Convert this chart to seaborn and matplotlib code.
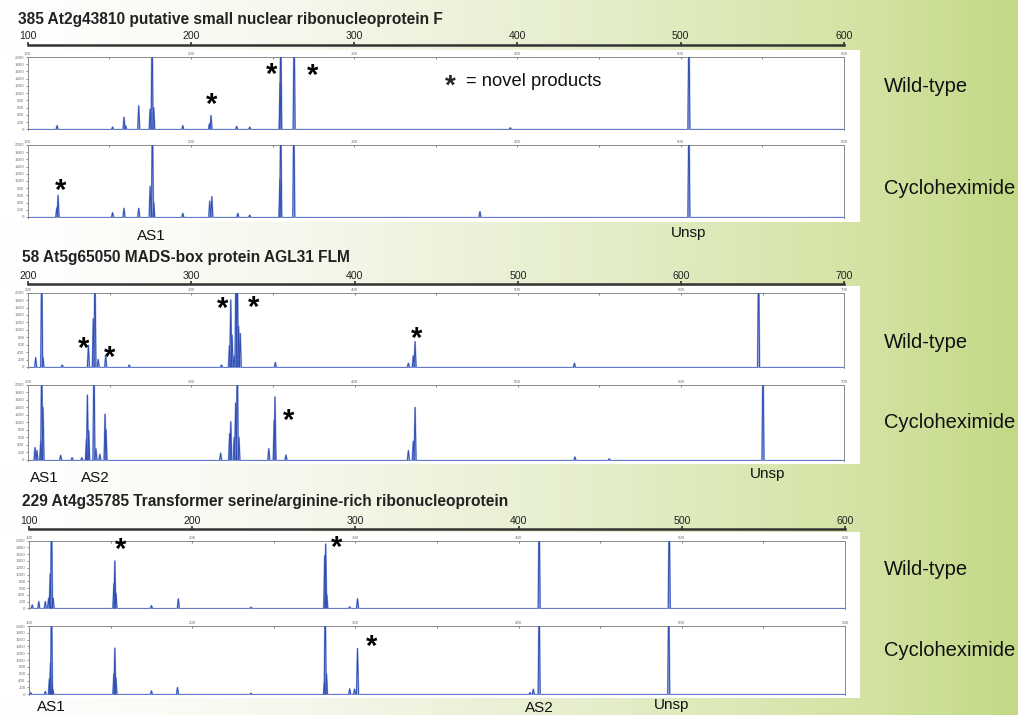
import numpy as np
import pandas as pd
import matplotlib
matplotlib.use("Agg")
import matplotlib.pyplot as plt
import matplotlib.transforms as mtransforms
from matplotlib.colors import LinearSegmentedColormap
from matplotlib.patches import Rectangle
from matplotlib.ticker import MultipleLocator
import seaborn as sns

# ---- data ----------------------------------------------------------------
titles = ["385 At2g43810 putative small nuclear ribonucleoprotein F",
          "58 At5g65050 MADS-box protein AGL31 FLM",
          "229 At4g35785 Transformer serine/arginine-rich ribonucleoprotein"]
size_ranges = [(100, 600), (200, 700), (100, 600)]
conditions = ["Wild-type", "Cycloheximide"]
rfu_ticks = list(range(0, 2001, 200))

# peaks: size (bp) and height (RFU); values above 2000 run off the scale
snrnp_wt_bp = [118, 152, 159, 160, 168, 175, 176.2, 177.2, 195, 211.3, 212.3, 228, 236, 254.6, 255, 263.2, 395.6, 505]
snrnp_wt_rfu = [100, 60, 330, 100, 650, 560, 3000, 600, 100, 150, 380, 80, 60, 1300, 3000, 3000, 40, 3000]
snrnp_chx_bp = [117.8, 118.6, 152, 159, 168, 175, 176.4, 177.2, 195, 211.5, 212.8, 228.7, 236, 254.5, 255, 263, 377, 505]
snrnp_chx_rfu = [250, 600, 120, 240, 240, 850, 3000, 400, 100, 440, 560, 100, 50, 1050, 3000, 3000, 150, 3000]

flm_wt_bp = [204.7, 208.4, 209.2, 221, 237, 240, 241, 243, 247.6, 262, 318.5, 323.4, 324.2, 325,
             326.2, 327.4, 328.2, 329, 330, 351.5, 433, 436, 437.1, 534.7, 647.5]
flm_wt_rfu = [250, 3000, 250, 50, 580, 1300, 3000, 200, 310, 50, 50, 580, 1800, 850,
              300, 3000, 3000, 1100, 900, 120, 100, 300, 680, 100, 3000]
flm_chx_bp = [204.3, 205.5, 207.8, 208.4, 209.2, 220, 227, 233, 235.8, 236.4, 237.2, 240.4, 241.6, 244,
              247.2, 247.8, 318, 323.5, 324.2, 326.3, 327.2, 328.2, 329.2, 347.5, 350.8, 351.3, 358,
              433, 436, 437.1, 535, 556, 650.2]
flm_chx_rfu = [330, 250, 500, 3000, 1400, 120, 60, 60, 550, 1730, 780, 3000, 300, 150,
               1220, 800, 180, 700, 1020, 600, 1520, 3000, 600, 300, 1050, 1680, 130,
               250, 500, 1400, 80, 30, 3000]

tsr_wt_bp = [102, 106, 110, 112, 113, 113.8, 114.8, 152, 152.6, 153.3, 175, 191.5, 236,
             281.2, 281.8, 282.5, 296.5, 301.3, 412.6, 492.3]
tsr_wt_rfu = [100, 200, 200, 300, 1020, 3000, 300, 730, 1400, 450, 80, 280, 30,
              1560, 1900, 400, 40, 280, 3000, 3000]
tsr_chx_bp = [101, 110, 112.5, 113.2, 113.8, 114.6, 152, 152.6, 153.3, 175, 191, 236,
              281, 281.5, 282.3, 296.5, 299.5, 301.3, 407, 409, 412.6, 492]
tsr_chx_rfu = [50, 80, 450, 920, 3000, 150, 600, 1350, 480, 100, 200, 30,
               350, 3000, 600, 160, 150, 1340, 50, 150, 3000, 3000]

# novel products (*) as (bp, RFU)
snrnp_wt_stars = [(212.6, 822), (249.4, 1663), (274.5, 1625)]
snrnp_chx_stars = [(120.2, 872)]
flm_wt_stars = [(233.9, 650), (250.2, 400), (319.3, 1733), (338, 1760), (437.7, 899)]
flm_chx_stars = [(359.5, 1207)]
tsr_wt_stars = [(156.3, 1903), (288.6, 1970)]
tsr_chx_stars = [(310, 1565)]

# product names under the traces
snrnp_products = ["AS1", "Unsp"]
snrnp_product_bp = [175.6, 505]
flm_products = ["AS1", "AS2", "Unsp"]
flm_product_bp = [210, 241, 653]
tsr_products = ["AS1", "AS2", "Unsp"]
tsr_product_bp = [113.8, 412.7, 494]

traces = [[(snrnp_wt_bp, snrnp_wt_rfu, snrnp_wt_stars), (snrnp_chx_bp, snrnp_chx_rfu, snrnp_chx_stars)],
          [(flm_wt_bp, flm_wt_rfu, flm_wt_stars), (flm_chx_bp, flm_chx_rfu, flm_chx_stars)],
          [(tsr_wt_bp, tsr_wt_rfu, tsr_wt_stars), (tsr_chx_bp, tsr_chx_rfu, tsr_chx_stars)]]
products = [(snrnp_products, snrnp_product_bp), (flm_products, flm_product_bp), (tsr_products, tsr_product_bp)]

# ---- layout (pixels) ------------------------------------------------------
W, H = 1018, 715
layout = [
    dict(title_y=24, title_x=18, scale_y=44.5, white=(50, 222), lr=(27.7, 844),
         traces=[(57, 130), (145, 217.7)], prod_y=[240, 237], cond_y=[92.5, 193.5]),
    dict(title_y=261.7, title_x=22, scale_y=284.3, white=(286, 464), lr=(28, 844.3),
         traces=[(292.7, 367.7), (385, 460.7)], prod_y=[481.7, 481.7, 478], cond_y=[348.5, 428]),
    dict(title_y=506, title_x=22, scale_y=529.3, white=(532, 698), lr=(29, 845),
         traces=[(540.7, 609), (626, 695)], prod_y=[711, 711.5, 709], cond_y=[575, 655.5]),
]
dark = "#2f4cb0"
light = "#9fb2e8"
peak_halfwidth = 0.6

sns.set_style("white")
plt.rcParams['font.family'] = ['Liberation Sans', 'DejaVu Sans']

fig = plt.figure(figsize=(W / 100, H / 100), dpi=100)


def box(l, t, r, b):
    return [l / W, 1 - b / H, (r - l) / W, (b - t) / H]


def px_y(y):
    return 1 - y / H


# background gradient + white panels
bg = fig.add_axes([0, 0, 1, 1], zorder=-10)
cmap = LinearSegmentedColormap.from_list(
    "bg", [(0, "#ffffff"), (0.25, "#f7f9f0"), (0.55, "#e7efd0"), (0.85, "#d4e3a3"), (1, "#c3d986")])
bg.imshow(np.linspace(0, 1, 256)[None, :], aspect="auto", cmap=cmap, extent=[0, W, H, 0])
bg.set_xlim(0, W)
bg.set_ylim(H, 0)
bg.axis("off")
for lay in layout:
    t, b = lay["white"]
    bg.add_patch(Rectangle((0, t), 860, b - t, color="white", lw=0))

star_fs = 21
star_shift = 0.2

for p, lay in enumerate(layout):
    lo, hi = size_ranges[p]
    l, r = lay["lr"]

    fig.text(lay["title_x"] / W, px_y(lay["title_y"]), titles[p], fontsize=11.2,
             fontweight="bold", color="#222222", va="baseline", ha="left")

    # size scale above the traces
    sc = fig.add_axes(box(l, lay["scale_y"], r, lay["scale_y"] + 2))
    sc.set_xlim(lo, hi)
    sc.set_yticks([])
    sc.patch.set_alpha(0)
    for s in ["left", "right", "bottom"]:
        sc.spines[s].set_visible(False)
    sc.spines["top"].set_linewidth(1.8)
    sc.spines["top"].set_color("#333333")
    sc.xaxis.set_major_locator(MultipleLocator(100))
    sc.tick_params(axis="x", top=True, bottom=False, labeltop=True, labelbottom=False,
                   direction="out", length=2.2, width=1.2, pad=0.3, labelsize=7.6,
                   color="#333333", labelcolor="#222222")

    for k, (t, b) in enumerate(lay["traces"]):
        bp, rfu, stars = traces[p][k]
        ax = fig.add_axes(box(l, t, r, b))
        rows = []
        for i, (x, h) in enumerate(zip(bp, rfu)):
            rows += [(i, x - peak_halfwidth, 0), (i, x, h), (i, x + peak_halfwidth, 0)]
        df = pd.DataFrame(rows, columns=["peak", "bp", "rfu"])
        ax.axhline(0, color=light, lw=1.0, zorder=1)
        ax.axhline(0, color=dark, lw=0.4, zorder=2)
        sns.lineplot(data=df, x="bp", y="rfu", units="peak", estimator=None, sort=False,
                     color=light, lw=1.3, ax=ax, legend=False, zorder=3)
        sns.lineplot(data=df, x="bp", y="rfu", units="peak", estimator=None, sort=False,
                     color=dark, lw=0.65, ax=ax, legend=False, zorder=4)
        ax.set_xlim(lo, hi)
        ax.set_ylim(-20, 2000)
        ax.set_xlabel("")
        ax.set_ylabel("")
        ax.set_facecolor("white")
        ax.spines["bottom"].set_visible(False)
        for s in ["top", "left", "right"]:
            ax.spines[s].set_color("#8a8a8a")
            ax.spines[s].set_linewidth(0.7)
        ax.xaxis.set_major_locator(MultipleLocator(100))
        ax.xaxis.set_minor_locator(MultipleLocator(50))
        ax.tick_params(axis="x", which="both", top=True, bottom=False, labeltop=True,
                       labelbottom=False, direction="in", length=1.5, width=0.6,
                       pad=0.5, labelsize=3.2, color="#666666", labelcolor="#777777")
        ax.set_yticks(rfu_ticks)
        ax.tick_params(axis="y", left=True, direction="out", length=1.8, width=0.5,
                       pad=0.6, labelsize=3.2, color="#666666", labelcolor="#777777")

        off = mtransforms.ScaledTranslation(0, -star_shift * star_fs / 72, fig.dpi_scale_trans)
        for sx, sy in stars:
            ax.text(sx, sy, "*", fontsize=star_fs, fontweight="bold", ha="center", va="center",
                    transform=ax.transData + off, clip_on=False, color="black")

        fig.text(884 / W, px_y(lay["cond_y"][k]), conditions[k], fontsize=14.5,
                 va="baseline", ha="left", color="#111111")

    # product names under the bottom trace
    names, pos = products[p]
    tr = mtransforms.blended_transform_factory(ax.transData, fig.transFigure)
    for name, x, y in zip(names, pos, lay["prod_y"]):
        ax.text(x, px_y(y), name, fontsize=11, ha="center", va="baseline",
                transform=tr, clip_on=False, color="#111111")

# key for the asterisks
fs = 20
fig.text(450 / W, px_y(80.7 + star_shift * fs * 100 / 72), "*", fontsize=fs, fontweight="bold",
         ha="center", va="center")
fig.text(466 / W, px_y(86), "= novel products", fontsize=13.2, ha="left", va="baseline",
         color="#111111")

fig.savefig("out.png", dpi=100)
